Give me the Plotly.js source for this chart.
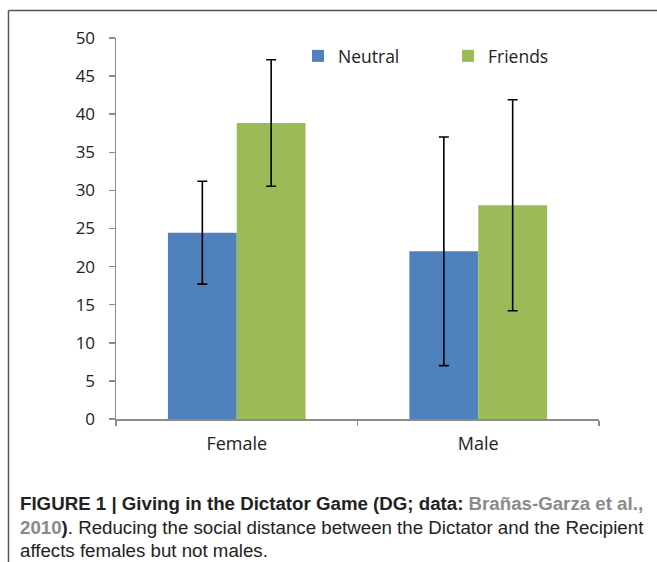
<!DOCTYPE html>
<html>
<head>
<meta charset="utf-8">
<script src="https://cdn.plot.ly/plotly-3.0.1.min.js"></script>
<style>body{margin:0;padding:0;background:#fff;} #chart{width:657px;height:562px;}</style>
</head>
<body>
<div id="chart"></div>
<script>
const categories = ["Female", "Male"];
const seriesNames = ["Neutral", "Friends"];
const neutralValues = [24.45, 22.0];
const neutralErrors = [6.75, 15.0];
const friendsValues = [38.85, 28.05];
const friendsErrors = [8.3, 13.85];
const yTicks = [0, 5, 10, 15, 20, 25, 30, 35, 40, 45, 50];

const W = 657, H = 562;
const L = 116, R = 599, T = 38, B = 419;
const px = x => (x - L) / (R - L);
const py = y => (B - y) / (B - T);

const chartFont = "'Open Sans', sans-serif";
const capFont = "'Liberation Sans Narrow', 'Liberation Sans', Arial, sans-serif";

const errStyle = {type: 'data', symmetric: true, color: '#000', thickness: 1.6, width: 5};

const traces = [
  {type: 'bar', name: seriesNames[0], x: categories, y: neutralValues,
   marker: {color: '#4F81BD'},
   error_y: Object.assign({array: neutralErrors}, errStyle)},
  {type: 'bar', name: seriesNames[1], x: categories, y: friendsValues,
   marker: {color: '#9BBB59'},
   error_y: Object.assign({array: friendsErrors}, errStyle)}
];

const line = {color: '#555', width: 1.5};
const layout = {
  width: W, height: H,
  margin: {l: L, r: W - R, t: T, b: H - B, pad: 0},
  paper_bgcolor: '#fff', plot_bgcolor: '#fff',
  barmode: 'group', bargap: 0.43, bargroupgap: 0,
  font: {family: chartFont, size: 17, color: '#222'},
  showlegend: true,
  legend: {orientation: 'h', x: px(298), xanchor: 'left', y: py(56), yanchor: 'middle',
           font: {family: chartFont, size: 17.5, color: '#222'},
           entrywidth: 105, entrywidthmode: 'pixels', itemwidth: 30,
           bgcolor: 'rgba(0,0,0,0)', borderwidth: 0, tracegroupgap: 0},
  xaxis: {type: 'category', showgrid: false, zeroline: false,
          showline: true, linecolor: '#8c8c8c', linewidth: 1.5,
          ticks: 'outside', tickson: 'boundaries', ticklen: 5, tickcolor: '#8c8c8c', tickwidth: 1.5,
          tickfont: {family: chartFont, size: 18, color: '#222'}, ticklabelstandoff: 8,
          fixedrange: true},
  yaxis: {range: [0, 50], tickvals: yTicks, ticktext: yTicks.map(String),
          showgrid: false, zeroline: false,
          showline: true, linecolor: '#8c8c8c', linewidth: 1.5,
          ticks: 'outside', ticklen: 6, tickcolor: '#8c8c8c', tickwidth: 1.5,
          tickfont: {family: chartFont, size: 17, color: '#222'}, ticklabelstandoff: 10,
          fixedrange: true},
  shapes: [
    {type: 'line', xref: 'paper', yref: 'paper', x0: px(8.5), x1: px(8.5), y0: py(10.5), y1: py(570), line: line},
    {type: 'line', xref: 'paper', yref: 'paper', x0: px(8.5), x1: px(670), y0: py(10.5), y1: py(10.5), line: line}
  ],
  annotations: [
    {xref: 'paper', yref: 'paper', x: px(18), y: py(503), xanchor: 'left', yanchor: 'middle', showarrow: false,
     text: "<b>FIGURE 1 | Giving in the Dictator Game (DG; data: <span style='color:#8a8a8a'>Brañas-Garza et al.,</span></b>",
     font: {family: capFont, size: 18.7, color: '#222'}},
    {xref: 'paper', yref: 'paper', x: px(18), y: py(527), xanchor: 'left', yanchor: 'middle', showarrow: false,
     text: "<b><span style='color:#8a8a8a'>2010</span>)</b>. Reducing the social distance between the Dictator and the Recipient",
     font: {family: capFont, size: 18.7, color: '#222'}},
    {xref: 'paper', yref: 'paper', x: px(18), y: py(550), xanchor: 'left', yanchor: 'middle', showarrow: false,
     text: "affects females but not males.",
     font: {family: capFont, size: 18.7, color: '#222'}}
  ]
};

Plotly.newPlot('chart', traces, layout, {displayModeBar: false, staticPlot: true});
</script>
</body>
</html>
